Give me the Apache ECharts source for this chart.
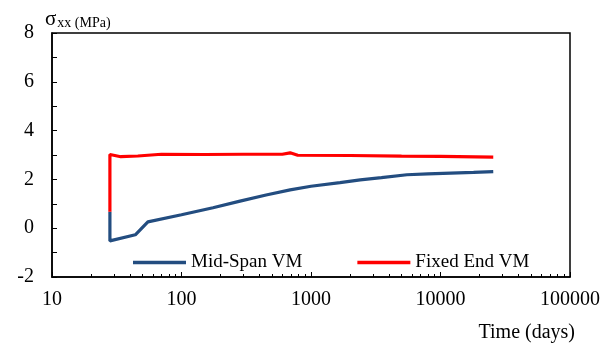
<!DOCTYPE html>
<html>
<head>
<meta charset="utf-8">
<script src="https://cdn.jsdelivr.net/npm/echarts@6/dist/echarts.min.js"></script>
<style>
  html, body { margin: 0; padding: 0; background: #fff; }
  #chart { width: 613px; height: 347px; }
</style>
</head>
<body>
<div id="chart"></div>
<script>
// Stress history: time in days (log scale) vs. sigma_xx in MPa
const midSpanDays = [28, 28, 44, 55, 100, 175, 283, 450, 690, 1000, 1675, 2400, 3500, 5500, 8000, 12000, 18000, 25550];
const midSpanStress = [0.67, -0.52, -0.27, 0.26, 0.55, 0.84, 1.11, 1.36, 1.57, 1.72, 1.87, 1.98, 2.07, 2.19, 2.23, 2.26, 2.29, 2.32];

const fixedEndDays = [28, 28, 34, 46, 70, 150, 300, 600, 690, 790, 2000, 5000, 10000, 25550];
const fixedEndStress = [0.67, 3.02, 2.93, 2.96, 3.03, 3.02, 3.03, 3.03, 3.09, 2.99, 2.98, 2.95, 2.94, 2.91];

const seriesNames = ['Mid-Span VM', 'Fixed End VM'];
const xTickLabels = [10, 100, 1000, 10000, 100000];
const yTickLabels = [-2, 0, 2, 4, 6, 8];

// minor log ticks 2..9 within each decade
const minorLogTicks = [];
for (let d = 10; d < 100000; d *= 10) {
  for (let k = 2; k <= 9; k++) minorLogTicks.push(k * d);
}

const serif = 'Liberation Serif, Times New Roman, serif';
const pairs = (xs, ys) => xs.map((x, i) => [x, ys[i]]);

const chart = echarts.init(document.getElementById('chart'));
chart.setOption({
  animation: false,
  backgroundColor: '#fff',
  title: {
    text: '{s|σ}{sub|xx (MPa)}',
    left: 40,
    top: 2,
    textStyle: {
      fontWeight: 'normal',
      rich: {
        s: { fontFamily: serif, fontSize: 21, fontWeight: 'normal', color: '#000', lineHeight: 24 },
        sub: { fontFamily: serif, fontSize: 14, fontWeight: 'normal', color: '#000', lineHeight: 24, padding: [8, 0, 0, 1] }
      }
    }
  },
  grid: {
    left: 52, right: 43, top: 33, bottom: 70,
    outerBoundsMode: 'none',
    containLabel: false,
    show: true, borderColor: '#000', borderWidth: 1.5, backgroundColor: 'transparent'
  },
  legend: {
    data: seriesNames,
    left: 128,
    top: 248,
    icon: 'rect',
    itemWidth: 53,
    itemHeight: 3.5,
    itemGap: 55,
    textStyle: { fontFamily: serif, fontSize: 19, color: '#000' }
  },
  xAxis: [
    {
      type: 'log',
      logBase: 10,
      min: xTickLabels[0],
      max: xTickLabels[xTickLabels.length - 1],
      name: 'Time (days)',
      nameLocation: 'end',
      nameGap: 5,
      nameTextStyle: {
        fontFamily: serif, fontSize: 20, color: '#000',
        align: 'right', verticalAlign: 'top', padding: [46, 0, 0, 0]
      },
      axisLine: { onZero: false, lineStyle: { color: '#000', width: 1.5 } },
      axisTick: { inside: true, length: 5, lineStyle: { color: '#000', width: 1 } },
      axisLabel: {
        fontFamily: serif, fontSize: 20, color: '#000', margin: 13,
        customValues: xTickLabels,
        formatter: v => String(v)
      },
      splitLine: { show: false }
    },
    {
      type: 'log',
      logBase: 10,
      min: xTickLabels[0],
      max: xTickLabels[xTickLabels.length - 1],
      position: 'bottom',
      axisLine: { show: false, onZero: false },
      axisTick: { inside: true, length: 3, customValues: minorLogTicks, lineStyle: { color: '#000', width: 1 } },
      axisLabel: { show: false },
      splitLine: { show: false }
    }
  ],
  yAxis: {
    type: 'value',
    min: yTickLabels[0],
    max: yTickLabels[yTickLabels.length - 1],
    interval: 2,
    axisLine: { show: true, onZero: false, lineStyle: { color: '#000', width: 1.5 } },
    axisTick: { show: true, inside: true, length: 5, lineStyle: { color: '#000', width: 1 } },
    minorTick: { show: true, splitNumber: 2, length: 5, lineStyle: { color: '#000', width: 1 } },
    axisLabel: { fontFamily: serif, fontSize: 20, color: '#000', margin: 18 },
    splitLine: { show: false }
  },
  series: [
    {
      name: seriesNames[0],
      type: 'line',
      data: pairs(midSpanDays, midSpanStress),
      showSymbol: false,
      symbol: 'none',
      color: '#234d80',
      lineStyle: { color: '#234d80', width: 3.2 }
    },
    {
      name: seriesNames[1],
      type: 'line',
      data: pairs(fixedEndDays, fixedEndStress),
      showSymbol: false,
      symbol: 'none',
      color: '#ff0000',
      lineStyle: { color: '#ff0000', width: 3.2 }
    }
  ]
});
</script>
</body>
</html>
